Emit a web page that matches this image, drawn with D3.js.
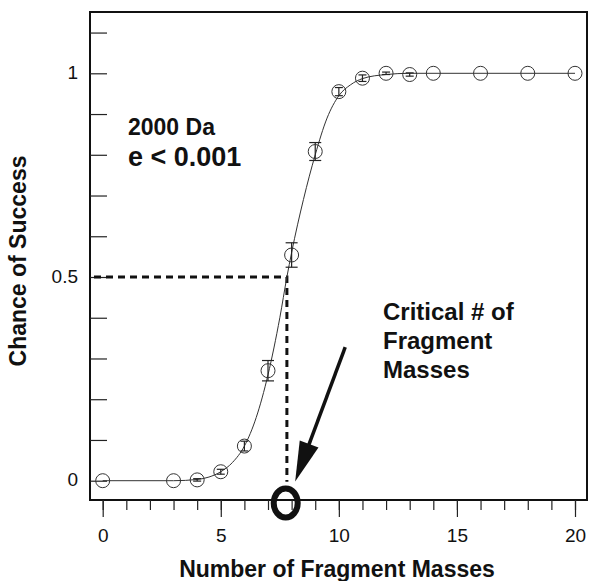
<!DOCTYPE html>
<html>
<head>
<meta charset="utf-8">
<script src="https://cdn.jsdelivr.net/npm/d3@7"></script>
<style>
  body { margin: 0; background: #fff; }
  text { font-family: "Liberation Sans", Arial, sans-serif; fill: #111; }
</style>
</head>
<body>
<div id="chart"></div>
<script>
// measured points
var fragCount = [0, 3, 4, 5, 6, 7, 8, 9, 10, 11, 12, 13, 14, 16, 18, 20];
var success   = [0, 0, 0.002, 0.022, 0.085, 0.27, 0.554, 0.808, 0.955, 0.988, 1.0, 0.997, 1.0, 1.0, 1.0, 1.0];
var errBar    = [0, 0, 0.003, 0.006, 0.012, 0.025, 0.03, 0.022, 0.01, 0.008, 0.003, 0.004, 0, 0, 0, 0];

// fitted curve
var fitX = [0, 3, 4, 4.5, 5, 5.5, 6, 6.5, 7, 7.5, 7.8, 8, 8.5, 9, 9.5, 10, 10.5, 11, 12, 13, 20];
var fitY = [0, 0, 0.003, 0.009, 0.022, 0.045, 0.085, 0.155, 0.26, 0.4, 0.5, 0.56, 0.69, 0.8, 0.89, 0.945, 0.972, 0.987, 0.997, 1, 1];

var xTicks = [0, 5, 10, 15, 20];
var yTicks = [0, 0.5, 1];
var critX = 7.8, critY = 0.5;

var width = 589, height = 581;
var svg = d3.select("#chart").append("svg")
    .attr("width", width)
    .attr("height", height);

var x = d3.scaleLinear().domain([0, 20]).range([102.7, 575]);
var y = d3.scaleLinear().domain([0, 1]).range([480.7, 73.3]);

// frame
var fx0 = 90, fx1 = 587, fy0 = 12, fy1 = 500;
svg.append("rect")
    .attr("x", fx0).attr("y", fy0)
    .attr("width", fx1 - fx0).attr("height", fy1 - fy0)
    .attr("fill", "none").attr("stroke", "#111").attr("stroke-width", 2);

// y ticks, pointing in
var yAxis = d3.axisRight(y).tickValues(d3.range(0, 1.11, 0.1)).tickSize(17).tickFormat("");
svg.append("g").attr("transform", "translate(" + fx0 + ",0)").call(yAxis)
    .call(function(g) { g.select(".domain").remove(); })
    .selectAll("line").attr("stroke", "#222").attr("stroke-width", 1.2);

svg.append("g").selectAll("text").data(yTicks).enter().append("text")
    .attr("x", 78).attr("y", function(d) { return y(d); })
    .attr("dy", "0.3em")
    .attr("text-anchor", "end")
    .attr("font-size", 19)
    .text(function(d) { return d === 0.5 ? "0.5" : d; });

// x ticks, pointing out
var xMinor = d3.axisBottom(x).tickValues(d3.range(0, 21)).tickSize(10).tickFormat("");
svg.append("g").attr("transform", "translate(0," + fy1 + ")").call(xMinor)
    .call(function(g) { g.select(".domain").remove(); })
    .selectAll("line").attr("stroke", "#222").attr("stroke-width", 1.2);
var xMajor = d3.axisBottom(x).tickValues(xTicks).tickSize(17).tickPadding(12);
var gx = svg.append("g").attr("transform", "translate(0," + fy1 + ")").call(xMajor);
gx.select(".domain").remove();
gx.selectAll("line").attr("stroke", "#222").attr("stroke-width", 1.2);
gx.selectAll("text").attr("font-size", 19).attr("font-family", "Liberation Sans, Arial, sans-serif").attr("fill", "#111");

// axis titles
svg.append("text")
    .attr("x", 337).attr("y", 577)
    .attr("text-anchor", "middle")
    .attr("font-size", 23).attr("font-weight", "bold")
    .text("Number of Fragment Masses");
svg.append("text")
    .attr("transform", "translate(26,261) rotate(-90)")
    .attr("text-anchor", "middle")
    .attr("font-size", 23).attr("font-weight", "bold")
    .text("Chance of Success");

// dashed guide lines
svg.append("path")
    .attr("d", "M" + (fx0 + 4) + "," + y(critY) + "H" + x(critX) + "V" + (y(0) + 1))
    .attr("fill", "none").attr("stroke", "#111")
    .attr("stroke-width", 3).attr("stroke-dasharray", "7,5");

// fitted curve
var line = d3.line()
    .x(function(d) { return x(d[0]); })
    .y(function(d) { return y(d[1]); })
    .curve(d3.curveMonotoneX);
svg.append("path")
    .datum(d3.zip(fitX, fitY))
    .attr("d", line)
    .attr("fill", "none").attr("stroke", "#333").attr("stroke-width", 1);

// error bars and circles
var pts = fragCount.map(function(f, i) { return { x: f, y: success[i], e: errBar[i] }; });
var eb = svg.append("g").attr("stroke", "#222").attr("stroke-width", 1.2);
pts.filter(function(d) { return d.e > 0; }).forEach(function(d) {
    var cx = x(d.x), w = d.e > 0.015 ? 6 : 4;
    eb.append("line").attr("x1", cx).attr("x2", cx).attr("y1", y(d.y - d.e)).attr("y2", y(d.y + d.e));
    eb.append("line").attr("x1", cx - w).attr("x2", cx + w).attr("y1", y(d.y - d.e)).attr("y2", y(d.y - d.e));
    eb.append("line").attr("x1", cx - w).attr("x2", cx + w).attr("y1", y(d.y + d.e)).attr("y2", y(d.y + d.e));
});
svg.append("g").selectAll("circle").data(pts).enter().append("circle")
    .attr("cx", function(d) { return x(d.x); })
    .attr("cy", function(d) { return y(d.y); })
    .attr("r", 7)
    .attr("fill", "none").attr("stroke", "#333").attr("stroke-width", 1);

// bold O on the axis
svg.append("ellipse")
    .attr("cx", x(7.75)).attr("cy", 503)
    .attr("rx", 12).attr("ry", 14.5)
    .attr("fill", "none").attr("stroke", "#111").attr("stroke-width", 6);

// arrow
var ax0 = x(10.27), ay0 = y(0.328), ax1 = x(8.15), ay1 = y(-0.002);
var dx = ax1 - ax0, dy = ay1 - ay0, len = Math.sqrt(dx * dx + dy * dy);
var ux = dx / len, uy = dy / len, headL = 40, headW = 10;
var bx = ax1 - ux * headL, by = ay1 - uy * headL;
svg.append("line")
    .attr("x1", ax0).attr("y1", ay0).attr("x2", bx + ux * 4).attr("y2", by + uy * 4)
    .attr("stroke", "#111").attr("stroke-width", 3.5);
svg.append("polygon")
    .attr("points", [[ax1, ay1], [bx - uy * headW, by + ux * headW], [bx + uy * headW, by - ux * headW]].join(" "))
    .attr("fill", "#111");

// annotations
svg.append("text").attr("x", 128).attr("y", 135)
    .attr("font-size", 23).attr("font-weight", "bold").text("2000 Da");
svg.append("text").attr("x", 128).attr("y", 166)
    .attr("font-size", 27).attr("font-weight", "bold").text("e < 0.001");
var crit = ["Critical # of", "Fragment", "Masses"];
svg.append("g").selectAll("text").data(crit).enter().append("text")
    .attr("x", 383).attr("y", function(d, i) { return 320 + i * 29; })
    .attr("font-size", 24).attr("font-weight", "bold")
    .text(function(d) { return d; });
</script>
</body>
</html>
